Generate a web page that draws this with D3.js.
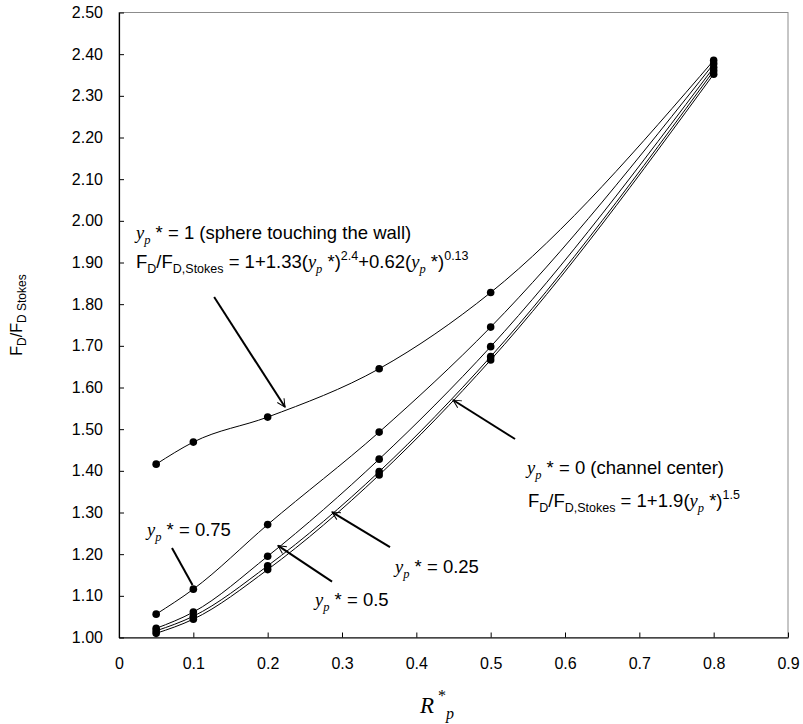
<!DOCTYPE html>
<html>
<head>
<meta charset="utf-8">
<script src="https://cdn.jsdelivr.net/npm/d3@7"></script>
<style>
  body { margin: 0; background: #fff; }
  text { font-family: "Liberation Sans", Arial, sans-serif; fill: #000; }
</style>
</head>
<body>
<svg width="803" height="724"></svg>
<script>
// values
var rValues = [0.05, 0.1, 0.2, 0.35, 0.5, 0.8];
var yp100 = [1.416, 1.469, 1.529, 1.645, 1.828, 2.385];
var yp075 = [1.056, 1.116, 1.271, 1.493, 1.745, 2.377];
var yp050 = [1.022, 1.061, 1.195, 1.428, 1.698, 2.368];
var yp025 = [1.016, 1.051, 1.172, 1.398, 1.674, 2.360];
var yp000 = [1.010, 1.044, 1.163, 1.390, 1.666, 2.352];
var xTicks = [0, 0.1, 0.2, 0.3, 0.4, 0.5, 0.6, 0.7, 0.8, 0.9];
var yTicks = [1.0, 1.1, 1.2, 1.3, 1.4, 1.5, 1.6, 1.7, 1.8, 1.9, 2.0, 2.1, 2.2, 2.3, 2.4, 2.5];

var seriesList = [yp100, yp075, yp050, yp025, yp000];

var svg = d3.select("svg"),
    plotLeft = 119, plotRight = 788, plotTop = 12.5, plotBottom = 637.5;

var x = d3.scaleLinear().domain([0, 0.9]).range([plotLeft, plotRight]);
var y = d3.scaleLinear().domain([1.0, 2.5]).range([plotBottom, plotTop]);

// plot area border (grey), axes drawn on top in black
svg.append("rect")
    .attr("x", plotLeft).attr("y", plotTop)
    .attr("width", plotRight - plotLeft).attr("height", plotBottom - plotTop)
    .attr("fill", "none").attr("stroke", "#8c8c8c").attr("stroke-width", 1);

var xAxis = svg.append("g")
    .attr("transform", "translate(0," + plotBottom + ")")
    .call(d3.axisBottom(x).tickValues(xTicks).tickSizeInner(-5).tickSizeOuter(0)
        .tickFormat(function (d) { return d === 0 ? "0" : d3.format(".1f")(d); }));
xAxis.selectAll("text").attr("y", 20).attr("font-size", 16)
    .style("font-family", "'Liberation Sans', Arial, sans-serif");

var yAxis = svg.append("g")
    .attr("transform", "translate(" + plotLeft + ",0)")
    .call(d3.axisLeft(y).tickValues(yTicks).tickSizeInner(-5).tickSizeOuter(0)
        .tickFormat(d3.format(".2f")));
yAxis.selectAll("text").attr("x", -16).attr("font-size", 16)
    .style("font-family", "'Liberation Sans', Arial, sans-serif");

svg.selectAll(".domain").attr("stroke", "#000").attr("stroke-width", 1.2);
svg.selectAll(".tick line").attr("stroke", "#000");

// smooth lines through the points
var line = d3.line()
    .x(function (d, i) { return x(rValues[i]); })
    .y(function (d) { return y(d); })
    .curve(d3.curveMonotoneX);

svg.append("g").selectAll("path")
    .data(seriesList)
    .enter().append("path")
    .attr("d", line)
    .attr("fill", "none")
    .attr("stroke", "#000")
    .attr("stroke-width", 1);

svg.append("g").selectAll("g")
    .data(seriesList)
    .enter().append("g")
    .selectAll("circle")
    .data(function (d) { return d; })
    .enter().append("circle")
    .attr("cx", function (d, i) { return x(rValues[i]); })
    .attr("cy", function (d) { return y(d); })
    .attr("r", 3.8)
    .attr("fill", "#000");

// arrow head marker
svg.append("defs").append("marker")
    .attr("id", "head")
    .attr("viewBox", "-10 -5 11 10")
    .attr("refX", 0)
    .attr("refY", 0)
    .attr("markerWidth", 11)
    .attr("markerHeight", 10)
    .attr("markerUnits", "userSpaceOnUse")
    .attr("orient", "auto")
  .append("path")
    .attr("d", "M-8,-4L0,0L-8,4")
    .attr("fill", "none")
    .attr("stroke", "#000")
    .attr("stroke-width", 1);

// arrows: [x1, y1, x2, y2, head] in data units, head drawn at the second point
var arrows = [
    [0.128, 1.817, 0.2233, 1.553, true],
    [0.0713, 1.215, 0.0989, 1.126, false],
    [0.2866, 1.134, 0.2139, 1.2204, true],
    [0.3646, 1.217, 0.2866, 1.301, true],
    [0.5328, 1.4764, 0.4494, 1.570, true]
];

svg.append("g").selectAll("line")
    .data(arrows)
    .enter().append("line")
    .attr("x1", function (d) { return x(d[0]); })
    .attr("y1", function (d) { return y(d[1]); })
    .attr("x2", function (d) { return x(d[2]); })
    .attr("y2", function (d) { return y(d[3]); })
    .attr("stroke", "#000")
    .attr("stroke-width", 2)
    .attr("marker-end", function (d) { return d[4] ? "url(#head)" : null; });

// rich text helper: parts with sub / sup / italic serif pieces
var base = 18.5, small = 12.5;
function richText(px, py, parts) {
    var t = svg.append("text").attr("x", px).attr("y", py).attr("font-size", base);
    var shift = 0;
    parts.forEach(function (p) {
        var target = p.sub ? 5 : (p.sup ? -8 : 0);
        var s = t.append("tspan")
            .attr("dy", target - shift)
            .attr("font-size", (p.sub || p.sup) ? small : base)
            .text(p.t);
        if (p.it) s.style("font-family", "'Liberation Serif', 'Times New Roman', serif").style("font-style", "italic");
        shift = target;
    });
    return t;
}
function ypParts(after) {
    return [{ t: "y", it: true }, { t: "p", it: true, sub: true }, { t: after }];
}

richText(x(0.0229), y(1.956), ypParts(" * = 1 (sphere touching the wall)"));
richText(x(0.0229), y(1.887), [
    { t: "F" }, { t: "D", sub: true }, { t: "/F" }, { t: "D,Stokes", sub: true }, { t: " = 1+1.33(" }
].concat(ypParts(" *)")).concat([{ t: "2.4", sup: true }, { t: "+0.62(" }])
 .concat(ypParts(" *)")).concat([{ t: "0.13", sup: true }]));

richText(x(0.0377), y(1.244), ypParts(" * = 0.75"));
richText(x(0.2637), y(1.076), ypParts(" * = 0.5"));
richText(x(0.3713), y(1.155), ypParts(" * = 0.25"));
richText(x(0.5489), y(1.3924), ypParts(" * = 0 (channel center)"));
richText(x(0.5502), y(1.313), [
    { t: "F" }, { t: "D", sub: true }, { t: "/F" }, { t: "D,Stokes", sub: true }, { t: " = 1+1.9(" }
].concat(ypParts(" *)")).concat([{ t: "1.5", sup: true }]));

// axis titles
var yt = svg.append("text")
    .attr("transform", "translate(22,315) rotate(-90)")
    .attr("text-anchor", "middle")
    .attr("font-size", 16);
yt.append("tspan").text("F");
yt.append("tspan").attr("font-size", 12).attr("dy", 4).text("D");
yt.append("tspan").attr("dy", -4).text("/F");
yt.append("tspan").attr("font-size", 12).attr("dy", 4).text("D Stokes");

var xt = svg.append("text")
    .attr("x", 420)
    .attr("y", 713)
    .style("font-family", "'Liberation Serif', 'Times New Roman', serif")
    .style("font-style", "italic")
    .attr("font-size", 23);
xt.append("tspan").text("R");
xt.append("tspan").attr("font-size", 16).attr("dx", 4).attr("dy", -12).style("font-style", "normal").text("*");
xt.append("tspan").attr("font-size", 16).attr("dy", 18).text("p");
</script>
</body>
</html>
